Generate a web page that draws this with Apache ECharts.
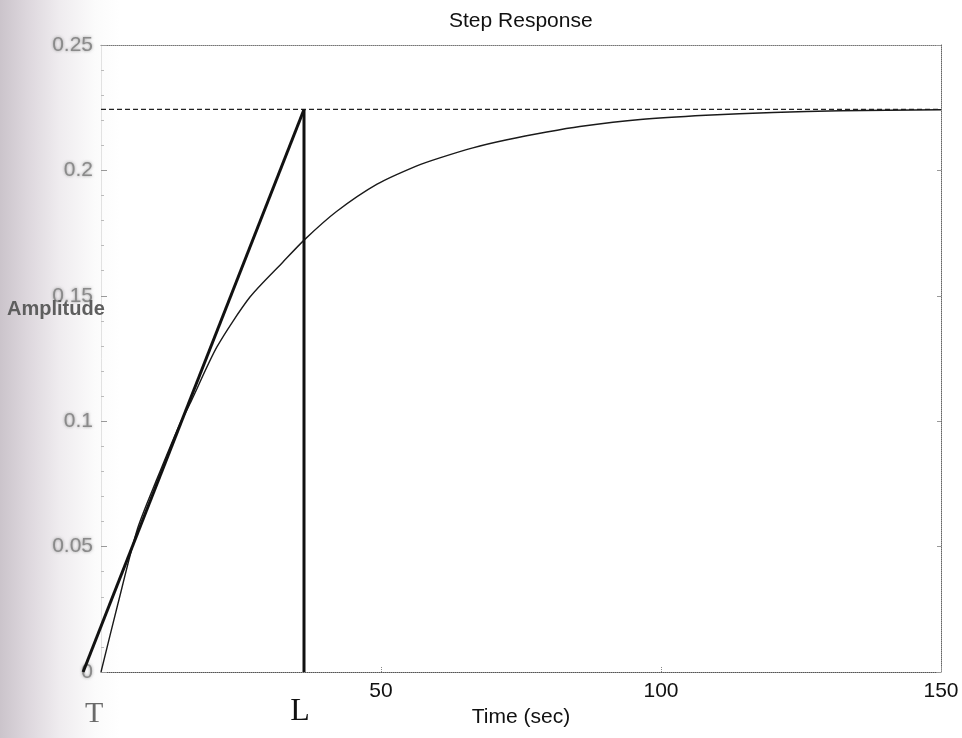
<!DOCTYPE html>
<html>
<head>
<meta charset="utf-8">
<title>Step Response</title>
<script src="https://cdn.jsdelivr.net/npm/echarts@6/dist/echarts.min.js"></script>
<style>
  html, body { margin: 0; padding: 0; }
  body {
    width: 962px; height: 738px; overflow: hidden;
    /* scanner shadow on the left edge */
    background: linear-gradient(to right, #cbc4cb 0px, #ddd7dd 28px, #efecef 60px, #fbfbfb 95px, #ffffff 120px);
  }
  #chart { width: 962px; height: 738px; }
</style>
</head>
<body>
<div id="chart"></div>
<script>
// step response
var stepTime = [0, 3, 6.5, 10, 14, 16, 20.7, 26.6, 32.5, 36.4, 42, 49.3, 56.4, 60.5, 66.4, 72.5, 79.6, 85.5, 96.3, 108, 120, 132, 150];
var stepAmp = [0, 0.027, 0.057, 0.077, 0.0985, 0.1075, 0.1296, 0.1495, 0.1635, 0.1725, 0.1835, 0.1945, 0.2018, 0.205, 0.209, 0.2122, 0.2153, 0.2175, 0.2203, 0.222, 0.2231, 0.2238, 0.2242];

// steady state value and the tangent construction
var steadyValue = 0.2243;
var lagTime = 36.25;
var tangentTime = [-3.2, lagTime];
var tangentAmp = [0, steadyValue];

var xTicks = [0, 50, 100, 150];
var yTicks = [0, 0.05, 0.1, 0.15, 0.2, 0.25];

var sans = '"Liberation Sans", Arial, sans-serif';
var serif = '"Liberation Serif", "Times New Roman", serif';

function pairs(xs, ys) {
  return xs.map(function (x, i) { return [x, ys[i]]; });
}

var chart = echarts.init(document.getElementById('chart'));

chart.setOption({
  backgroundColor: 'transparent',
  animation: false,
  title: {
    text: 'Step Response',
    left: 444,
    top: 6,
    textStyle: { fontFamily: sans, fontSize: 21, fontWeight: 'normal', color: '#111' }
  },
  grid: { left: 101, right: 21, top: 45, bottom: 66 },
  xAxis: [
    {
      type: 'value',
      min: xTicks[0],
      max: xTicks[xTicks.length - 1],
      interval: 50,
      name: 'Time (sec)',
      nameLocation: 'middle',
      nameGap: 26,
      nameTextStyle: { fontFamily: sans, fontSize: 21, color: '#111' },
      axisLine: { show: true, onZero: false, lineStyle: { color: '#555', type: 'dotted', width: 1 } },
      axisTick: { show: true, inside: true, length: 6, lineStyle: { color: '#888', type: 'dotted' } },
      axisLabel: {
        showMinLabel: false,
        margin: 9,
        fontFamily: sans, fontSize: 21, color: '#111'
      },
      splitLine: { show: false }
    },
    {
      type: 'value',
      position: 'top',
      min: xTicks[0],
      max: xTicks[xTicks.length - 1],
      interval: 50,
      axisLine: { show: true, onZero: false, lineStyle: { color: '#777', type: 'dotted', width: 1 } },
      axisTick: { show: false },
      axisLabel: { show: false },
      splitLine: { show: false }
    }
  ],
  yAxis: [
    {
      type: 'value',
      min: yTicks[0],
      max: yTicks[yTicks.length - 1],
      interval: 0.05,
      axisLine: { show: true, onZero: false, lineStyle: { color: '#e2e2e2', width: 1 } },
      axisTick: { show: true, inside: true, length: 6, lineStyle: { color: '#999' } },
      minorTick: { show: true, splitNumber: 5, length: 3, lineStyle: { color: '#bbb' } },
      axisLabel: {
        margin: 8,
        fontFamily: sans, fontSize: 21, color: '#8a8a8a',
        textShadowColor: 'rgba(110,110,110,0.7)', textShadowBlur: 3
      },
      splitLine: { show: false }
    },
    {
      type: 'value',
      position: 'right',
      min: yTicks[0],
      max: yTicks[yTicks.length - 1],
      interval: 0.05,
      axisLine: { show: true, onZero: false, lineStyle: { color: '#666', type: 'dotted', width: 1 } },
      axisTick: { show: true, inside: true, length: 4, lineStyle: { color: '#999' } },
      axisLabel: { show: false },
      splitLine: { show: false }
    }
  ],
  series: [
    {
      name: 'steady state',
      type: 'line',
      data: [[xTicks[0], steadyValue], [xTicks[xTicks.length - 1], steadyValue]],
      symbol: 'none',
      lineStyle: { color: '#222', width: 1.2, type: [5, 3] }
    },
    {
      name: 'step',
      type: 'line',
      data: pairs(stepTime, stepAmp),
      symbol: 'none',
      smooth: 0.25,
      lineStyle: { color: '#1a1a1a', width: 1.4 }
    },
    {
      name: 'lag',
      type: 'line',
      data: [[lagTime, 0], [lagTime, steadyValue]],
      symbol: 'none',
      lineStyle: { color: '#111', width: 3 }
    }
  ]
});

// the tangent runs past the left edge of the axes, so it is drawn
// as a graphic through the grid's own scale instead of a clipped series
function toPx(t, a) {
  return chart.convertToPixel({ gridIndex: 0 }, [t, a]);
}
var tangentPts = pairs(tangentTime, tangentAmp).map(function (p) { return toPx(p[0], p[1]); });
var tPos = toPx(tangentTime[0], 0);
var lPos = toPx(lagTime, 0);
var ampPos = toPx(0, 0.15);

chart.setOption({
  graphic: [
    {
      type: 'polyline',
      z: 10,
      shape: { points: tangentPts },
      style: { stroke: '#111', lineWidth: 3, fill: null }
    },
    {
      type: 'text',
      z: 100,
      x: ampPos[0] - 94,
      y: ampPos[1] + 4,
      style: {
        text: 'Amplitude',
        font: 'bold 20px ' + sans,
        fill: '#5e5e5e',
        shadowColor: 'rgba(90,90,90,0.6)',
        shadowBlur: 3
      }
    },
    {
      type: 'text',
      z: 100,
      x: tPos[0] + 11,
      y: tPos[1] + 27,
      style: {
        text: 'T',
        font: '30px ' + serif,
        fill: '#6a6a6a',
        textAlign: 'center',
        shadowColor: 'rgba(90,90,90,0.5)',
        shadowBlur: 2
      }
    },
    {
      type: 'text',
      z: 100,
      x: lPos[0] - 4,
      y: lPos[1] + 24,
      style: {
        text: 'L',
        font: '32px ' + serif,
        fill: '#111',
        textAlign: 'center'
      }
    }
  ]
});
</script>
</body>
</html>
